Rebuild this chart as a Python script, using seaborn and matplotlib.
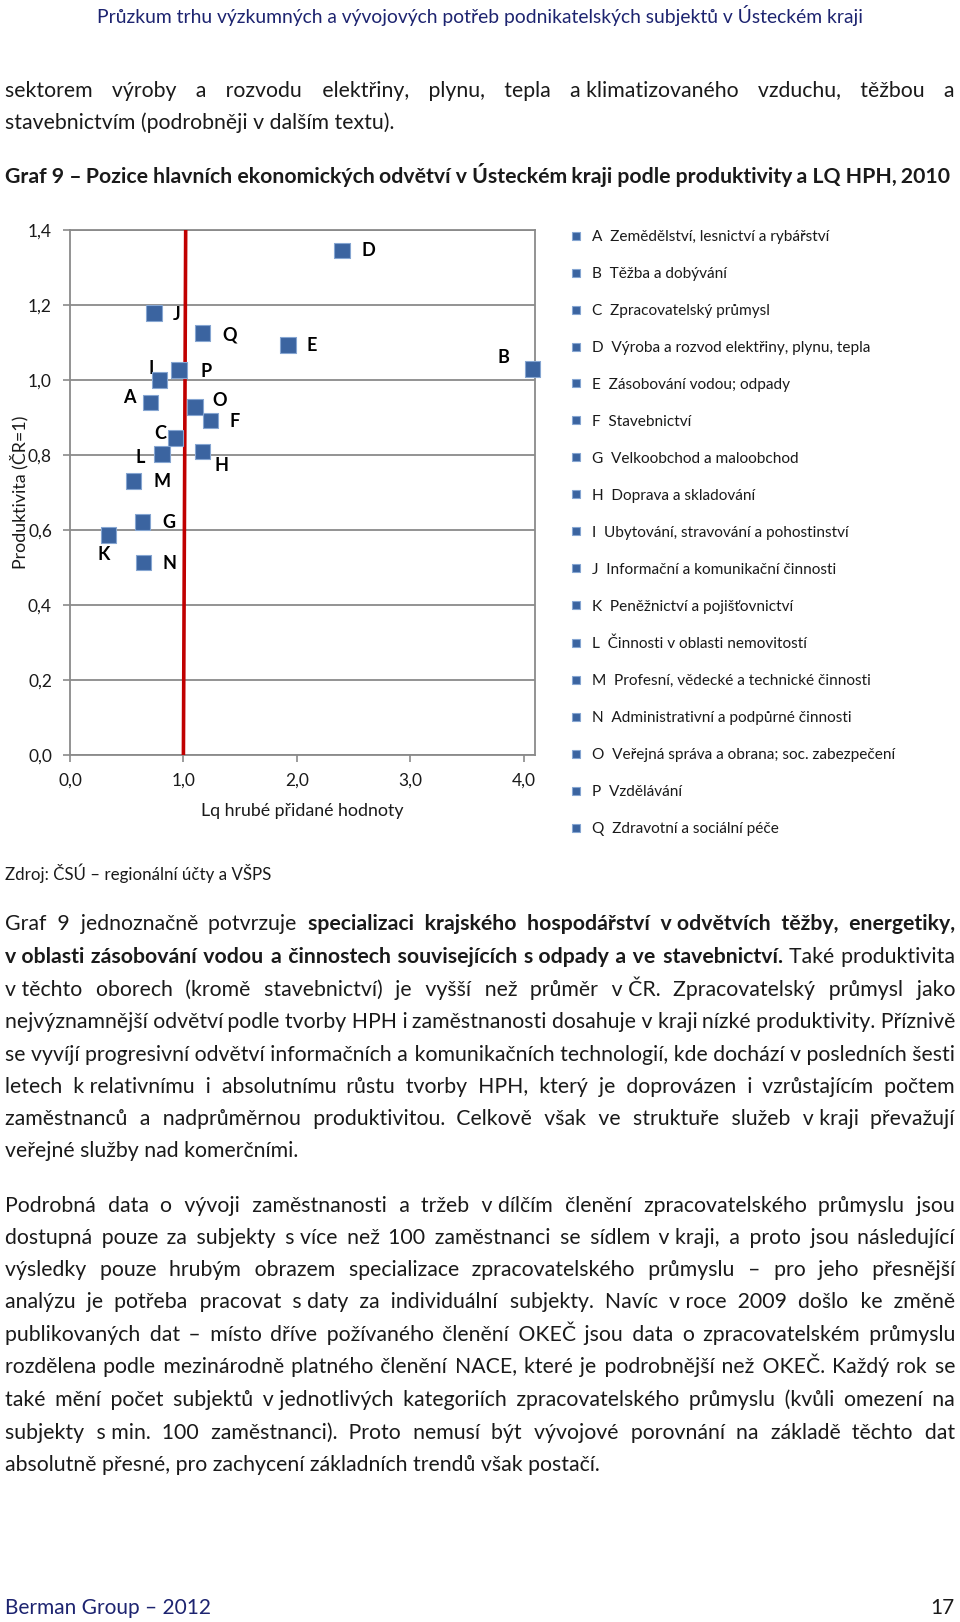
import matplotlib
matplotlib.use('Agg')
import matplotlib.pyplot as plt
import matplotlib.ticker as mticker
import pandas as pd
import seaborn as sns

# data (Graf 9)
codes = ['A', 'B', 'C', 'D', 'E', 'F', 'G', 'H', 'I', 'J', 'K', 'L', 'M', 'N', 'O', 'P', 'Q']
names = ['A  Zemědělství, lesnictví a rybářství',
         'B  Těžba a dobývání',
         'C  Zpracovatelský průmysl',
         'D  Výroba a rozvod elektřiny, plynu, tepla',
         'E  Zásobování vodou; odpady',
         'F  Stavebnictví',
         'G  Velkoobchod a maloobchod',
         'H  Doprava a skladování',
         'I  Ubytování, stravování a pohostinství',
         'J  Informační a komunikační činnosti',
         'K  Peněžnictví a pojišťovnictví',
         'L  Činnosti v oblasti nemovitostí',
         'M  Profesní, vědecké a technické činnosti',
         'N  Administrativní a podpůrné činnosti',
         'O  Veřejná správa a obrana; soc. zabezpečení',
         'P  Vzdělávání',
         'Q  Zdravotní a sociální péče']
lq = [0.71, 4.08, 0.93, 2.40, 1.92, 1.24, 0.64, 1.17, 0.79, 0.74, 0.34, 0.81, 0.56, 0.65, 1.10, 0.96, 1.17]
produktivita = [0.94, 1.03, 0.845, 1.345, 1.094, 0.892, 0.622, 0.809, 1.0, 1.179, 0.586, 0.802, 0.731, 0.513, 0.928, 1.026, 1.126]
cr_line_x = [1.0, 1.02]
cr_line_y = [0.0, 1.4]
x_ticks = [0.0, 1.0, 2.0, 3.0, 4.0]
y_ticks = [0.0, 0.2, 0.4, 0.6, 0.8, 1.0, 1.2, 1.4]

# label offsets (pixels) for the point letters
offs = {'A': (-21, 5), 'B': (-29, 11), 'C': (-15, 5), 'D': (26, 0), 'E': (24, -1),
        'F': (24, -1), 'G': (26, -1), 'H': (19, -14), 'I': (-8, 12), 'J': (23, -2),
        'K': (-5, -19), 'L': (-22, -3), 'M': (29, -1), 'N': (26, -1), 'O': (25, 6),
        'P': (27, -1), 'Q': (27, -2)}

df = pd.DataFrame({'kod': codes, 'nazev': names, 'lq': lq, 'prod': produktivita})

sns.set_theme(style='white')
plt.rcParams['font.family'] = ['Lato', 'DejaVu Sans']

W, H = 960, 1622
BLUE = '#3b64a0'
NAVY = '#1d2470'
TXT = '#1a1a1a'
fig = plt.figure(figsize=(W / 100, H / 100), dpi=100)
ren = fig.canvas.get_renderer()

ax = fig.add_axes([70 / W, 1 - 755 / H, 465 / W, 525 / H])
sns.scatterplot(data=df, x='lq', y='prod', hue='nazev', hue_order=names,
                palette={n: BLUE for n in names}, marker='s', s=125,
                edgecolor='#86a6d2', linewidth=0.8, ax=ax, zorder=4)
ax.collections[0].set_clip_on(False)
ax.plot(cr_line_x, cr_line_y, color='#c00000', lw=2.6, zorder=3)

for _, r in df.iterrows():
    ax.annotate(r['kod'], (r['lq'], r['prod']), xytext=offs[r['kod']],
                textcoords='offset pixels', ha='center', va='center',
                fontsize=13, fontweight='bold', color='black')

ax.set_xlim(0, 4.1)
ax.set_ylim(0, 1.4)
ax.set_xticks(x_ticks)
ax.set_yticks(y_ticks)
fmt = mticker.FuncFormatter(lambda v, p: f'{v:.1f}'.replace('.', ','))
ax.xaxis.set_major_formatter(fmt)
ax.yaxis.set_major_formatter(fmt)
ax.grid(axis='y', color='#8a8a8a', lw=1.3)
ax.grid(axis='x', visible=False)
ax.set_axisbelow(True)
for sp in ax.spines.values():
    sp.set_color('#8a8a8a')
    sp.set_linewidth(1.3)
ax.tick_params(axis='both', which='major', length=5, width=1.2, color='#8a8a8a',
               labelsize=12.5, labelcolor=TXT, bottom=True, left=True)
ax.tick_params(axis='x', pad=8)
ax.tick_params(axis='y', pad=8)
ax.set_xlabel('Lq hrubé přidané hodnoty', fontsize=12.8, color=TXT, labelpad=10)
ax.set_ylabel('Produktivita (ČR=1)', fontsize=12.8, color=TXT, labelpad=0)

sns.move_legend(ax, 'upper left', bbox_to_anchor=(570 / W, 1 - 230 / H),
                bbox_transform=fig.transFigure, frameon=False, title=None,
                fontsize=11.1, markerscale=0.5, labelspacing=1.49,
                handlelength=0.8, handletextpad=0.65, borderpad=0, borderaxespad=0)
for t in ax.get_legend().get_texts():
    t.set_color(TXT)

HAIR = '\u200a'


def measure(s, fs, bold):
    t = fig.text(0, 0, s, fontsize=fs, fontweight='bold' if bold else 'normal')
    w = t.get_window_extent(ren).width
    t.remove()
    return w


def put_line(segs, y, fs, justify=True, x0=5, x1=955, color=TXT):
    # y is the baseline in pixels from the top; justified lines are built
    # run by run, padding gaps with hair spaces so each run stays one text
    words = []
    for txt, bold in segs:
        for w in txt.split(' '):
            if w:
                words.append((w, bold))
    widths = [measure(w, fs, b) for w, b in words]
    space = measure('a a', fs, False) - measure('aa', fs, False)
    gap = space
    if justify and len(words) > 1:
        gap = (x1 - x0 - sum(widths)) / (len(words) - 1)
    starts = []
    x = x0
    for w in widths:
        starts.append(x)
        x += w + gap
    i = 0
    while i < len(words):
        bold = words[i][1]
        run_x = starts[i]
        s = words[i][0]
        hw = (measure('a' + HAIR * 10 + 'a', fs, bold) - measure('aa', fs, bold)) / 10
        j = i + 1
        while j < len(words) and words[j][1] == bold:
            w = words[j][0]
            target = starts[j] + widths[j] - run_x
            with_space = measure(s + ' ' + w, fs, bold)
            if with_space <= target + hw / 2:
                k = max(0, round((target - with_space) / hw))
                s = s + ' ' + HAIR * k + w
            else:
                k = max(1, round((target - measure(s + w, fs, bold)) / hw))
                s = s + HAIR * k + w
            j += 1
        fig.text(run_x / W, 1 - y / H, s, fontsize=fs, va='baseline', ha='left', color=color,
                 fontweight='bold' if bold else 'normal')
        i = j


N = '\u00a0'
BODY = 15.3
B = 6  # baseline below the visual line centre

fig.text(0.5, 1 - 16 / H, 'Průzkum trhu výzkumných a vývojových potřeb podnikatelských subjektů v Ústeckém kraji',
         ha='center', va='center', fontsize=13.9, color=NAVY)

put_line([(f'sektorem výroby a rozvodu elektřiny, plynu, tepla a{N}klimatizovaného vzduchu, těžbou a', False)], 91 + B, BODY)
put_line([('stavebnictvím (podrobněji v dalším textu).', False)], 123 + B, BODY, justify=False)
put_line([('Graf 9 – Pozice hlavních ekonomických odvětví v Ústeckém kraji podle produktivity a LQ HPH, 2010', True)],
         177 + B, BODY, x1=950)

fig.text(5 / W, 1 - 873 / H, 'Zdroj: ČSÚ – regionální účty a VŠPS', ha='left', va='center',
         fontsize=12.2, color=TXT)

par1 = [
    [('Graf 9 jednoznačně potvrzuje ', False), (f'specializaci krajského hospodářství v{N}odvětvích těžby, energetiky,', True)],
    [(f'v{N}oblasti zásobování vodou a činnostech souvisejících s{N}odpady a ve stavebnictví.', True), (' Také produktivita', False)],
    [(f'v{N}těchto oborech (kromě stavebnictví) je vyšší než průměr v{N}ČR. Zpracovatelský průmysl jako', False)],
    [(f'nejvýznamnější odvětví podle tvorby HPH i zaměstnanosti dosahuje v{N}kraji nízké produktivity. Příznivě', False)],
    [(f'se vyvíjí progresivní odvětví informačních a komunikačních technologií, kde dochází v{N}posledních šesti', False)],
    [(f'letech k{N}relativnímu i absolutnímu růstu tvorby HPH, který je doprovázen i vzrůstajícím počtem', False)],
    [(f'zaměstnanců a nadprůměrnou produktivitou. Celkově však ve struktuře služeb v{N}kraji převažují', False)],
    [('veřejné služby nad komerčními.', False)],
]
par1_y = [924, 957, 990, 1022, 1055, 1087, 1119, 1151]

par2 = [
    f'Podrobná data o vývoji zaměstnanosti a tržeb v{N}dílčím členění zpracovatelského průmyslu jsou',
    f'dostupná pouze za subjekty s{N}více než 100 zaměstnanci se sídlem v{N}kraji, a proto jsou následující',
    'výsledky pouze hrubým obrazem specializace zpracovatelského průmyslu – pro jeho přesnější',
    f'analýzu je potřeba pracovat s{N}daty za individuální subjekty. Navíc v{N}roce 2009 došlo ke změně',
    'publikovaných dat – místo dříve požívaného členění OKEČ jsou data o zpracovatelském průmyslu',
    'rozdělena podle mezinárodně platného členění NACE, které je podrobnější než OKEČ. Každý rok se',
    f'také mění počet subjektů v{N}jednotlivých kategoriích zpracovatelského průmyslu (kvůli omezení na',
    f'subjekty s{N}min. 100 zaměstnanci). Proto nemusí být vývojové porovnání na základě těchto dat',
    'absolutně přesné, pro zachycení základních trendů však postačí.',
]
par2_y = [1206, 1238, 1270, 1302, 1335, 1367, 1400, 1433, 1465]

for i, (segs, y) in enumerate(zip(par1, par1_y)):
    put_line(segs, y + B, BODY, justify=i < len(par1) - 1)
for i, (line, y) in enumerate(zip(par2, par2_y)):
    put_line([(line, False)], y + B, BODY, justify=i < len(par2) - 1)

fig.text(5 / W, 1 - 1608 / H, 'Berman Group – 2012', ha='left', va='center', fontsize=15, color=NAVY)
fig.text(955 / W, 1 - 1608 / H, '17', ha='right', va='center', fontsize=15, color=TXT)

fig.savefig('out.png', dpi=100, facecolor='white')
